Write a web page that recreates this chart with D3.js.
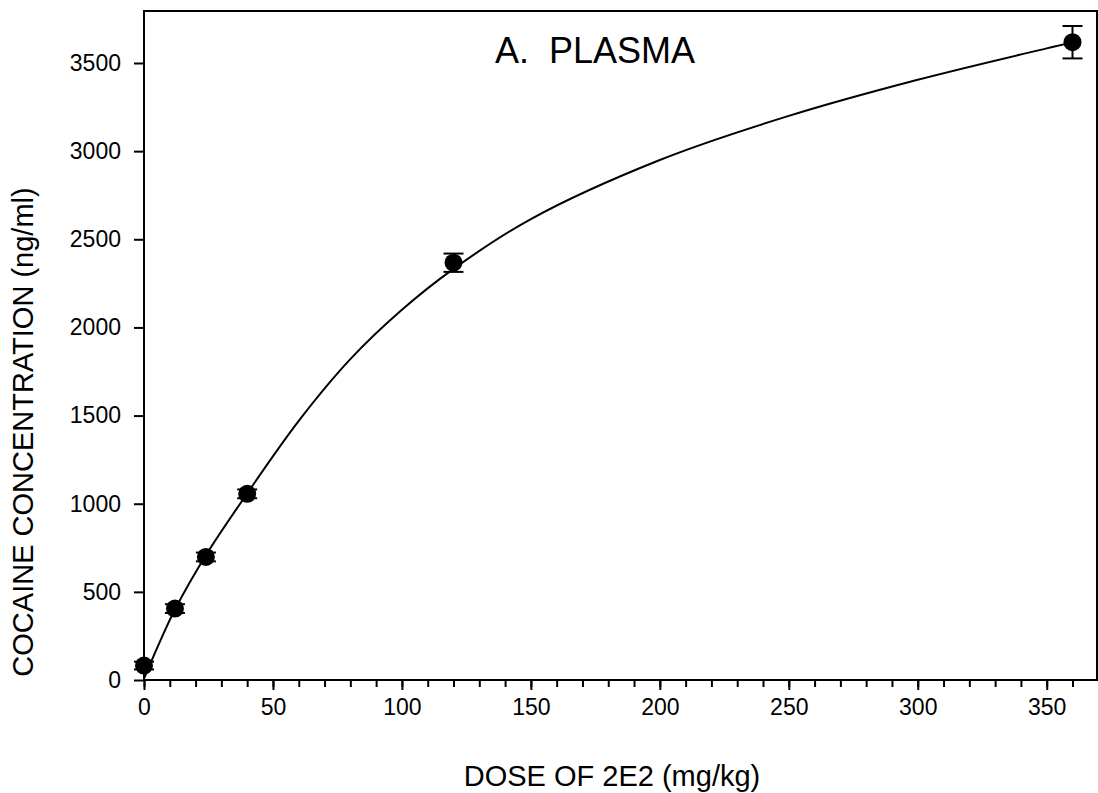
<!DOCTYPE html>
<html>
<head>
<meta charset="utf-8">
<script src="https://cdn.jsdelivr.net/npm/d3@7"></script>
<style>
  body { margin: 0; background: #fff; }
  svg { display: block; font-family: "Liberation Sans", Arial, sans-serif; }
</style>
</head>
<body>
<div id="chart"></div>
<script>
// measured points (dose mg/kg, plasma cocaine ng/ml, s.e.m.)
const doses = [0, 12, 24, 40, 120, 360];
const conc = [82, 405, 698, 1056, 2367, 3618];
const sem = [22, 25, 25, 25, 52, 92];

// fitted curve
const fitDose = [0, 6, 12, 24, 40, 60, 80, 100, 120, 150, 200, 250, 300, 350, 360];
const fitConc = [8, 212, 400, 708, 1058, 1470, 1820, 2100, 2332, 2615, 2950, 3200, 3405, 3583, 3617];

const xTicks = [0, 50, 100, 150, 200, 250, 300, 350];
const xMinor = d3.range(0, 370, 10);
const yTicks = [0, 500, 1000, 1500, 2000, 2500, 3000, 3500];

const W = 1098, H = 793;
const mLeft = 144, mRight = 1097, mTop = 11, mBottom = 680;

const svg = d3.select('#chart').append('svg')
  .attr('width', W)
  .attr('height', H);

const x = d3.scaleLinear().domain([0, 369.5]).range([mLeft, mRight]);
const y = d3.scaleLinear().domain([0, 3795]).range([mBottom, mTop]);

// frame
svg.append('rect')
  .attr('x', mLeft).attr('y', mTop)
  .attr('width', mRight - mLeft).attr('height', mBottom - mTop)
  .attr('fill', 'none')
  .attr('stroke', '#000')
  .attr('stroke-width', 2);

// x axis: minor ticks every 10, major every 50
const xAxis = svg.append('g')
  .attr('transform', `translate(0,${mBottom})`)
  .call(d3.axisBottom(x).tickValues(xMinor).tickSize(7).tickFormat(''));
xAxis.select('.domain').remove();
xAxis.selectAll('line').attr('stroke-width', 2);

const xMajor = svg.append('g')
  .attr('transform', `translate(0,${mBottom})`)
  .call(d3.axisBottom(x).tickValues(xTicks).tickSize(10).tickPadding(9).tickFormat(d3.format('d')));
xMajor.select('.domain').remove();
xMajor.selectAll('line').attr('stroke-width', 2);
xMajor.selectAll('text')
  .attr('font-size', 23)
  .attr('font-family', '"Liberation Sans", Arial, sans-serif')
  .attr('fill', '#000');

// y axis
const yAxis = svg.append('g')
  .attr('transform', `translate(${mLeft},0)`)
  .call(d3.axisLeft(y).tickValues(yTicks).tickSize(10).tickPadding(13).tickFormat(d3.format('d')));
yAxis.select('.domain').remove();
yAxis.selectAll('line').attr('stroke-width', 2);
yAxis.selectAll('text')
  .attr('font-size', 23)
  .attr('font-family', '"Liberation Sans", Arial, sans-serif')
  .attr('fill', '#000');

// fit line
const line = d3.line()
  .x((d, i) => x(fitDose[i]))
  .y(d => y(d))
  .curve(d3.curveCatmullRom.alpha(0.5));

svg.append('path')
  .datum(fitConc)
  .attr('d', line)
  .attr('fill', 'none')
  .attr('stroke', '#000')
  .attr('stroke-width', 2);

// error bars
const eb = svg.append('g').attr('stroke', '#000').attr('stroke-width', 2);
doses.forEach((d, i) => {
  const cx = x(d);
  const y0 = y(conc[i] - sem[i]), y1 = y(conc[i] + sem[i]);
  eb.append('line').attr('x1', cx).attr('x2', cx).attr('y1', y0).attr('y2', y1);
  eb.append('line').attr('x1', cx - 10).attr('x2', cx + 10).attr('y1', y0).attr('y2', y0);
  eb.append('line').attr('x1', cx - 10).attr('x2', cx + 10).attr('y1', y1).attr('y2', y1);
});

// points
svg.append('g').selectAll('circle')
  .data(doses)
  .enter()
  .append('circle')
  .attr('cx', d => x(d))
  .attr('cy', (d, i) => y(conc[i]))
  .attr('r', 9)
  .attr('fill', '#000');

// labels
svg.append('text')
  .attr('x', 595).attr('y', 63)
  .attr('text-anchor', 'middle')
  .attr('font-size', 36)
  .style('white-space', 'pre')
  .text('A.  PLASMA');

svg.append('text')
  .attr('x', 612).attr('y', 786)
  .attr('text-anchor', 'middle')
  .attr('font-size', 29)
  .text('DOSE OF 2E2 (mg/kg)');

svg.append('text')
  .attr('transform', 'translate(33,432) rotate(-90)')
  .attr('text-anchor', 'middle')
  .attr('font-size', 29)
  .text('COCAINE CONCENTRATION (ng/ml)');
</script>
</body>
</html>
